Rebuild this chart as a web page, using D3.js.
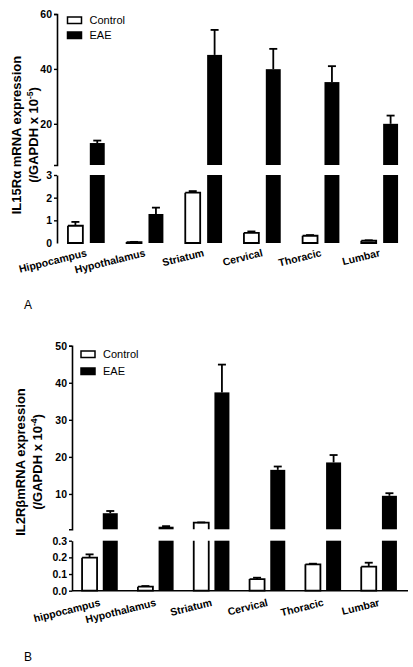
<!DOCTYPE html>
<html>
<head>
<meta charset="utf-8">
<script src="https://cdn.jsdelivr.net/npm/d3@7/dist/d3.min.js"></script>
<style>
  html, body { margin: 0; padding: 0; background: #fff; }
  svg { display: block; }
  text { font-family: "Liberation Sans", Arial, sans-serif; }
</style>
</head>
<body>
<svg id="chart" width="413" height="667"></svg>
<script>
// ---------- DATA ----------
const seriesNames = ["Control", "EAE"];

// Panel A: IL15Rα
const categoriesA = ["Hippocampus", "Hypothalamus", "Striatum", "Cervical", "Thoracic", "Lumbar"];
const controlA    = [0.76, 0.04, 2.22, 0.45, 0.32, 0.10];
const controlErrA = [0.17, 0.01, 0.07, 0.06, 0.03, 0.02];
const eaeA        = [13.0, 1.28, 45.1, 39.9, 35.2, 20.0];
const eaeErrA     = [0.9, 0.28, 9.1, 7.4, 5.8, 3.0];
const upperTicksA = [20, 40, 60];
const lowerTicksA = [0, 1, 2, 3];

// Panel B: IL2Rβ
const categoriesB = ["hippocampus", "Hypothalamus", "Striatum", "Cervical", "Thoracic", "Lumbar"];
const controlB    = [0.198, 0.024, 2.24, 0.070, 0.158, 0.144];
const controlErrB = [0.020, 0.004, 0.08, 0.008, 0.004, 0.024];
const eaeB        = [4.8, 1.16, 37.4, 16.5, 18.5, 9.5];
const eaeErrB     = [0.6, 0.15, 7.5, 0.9, 2.0, 0.7];
const upperTicksB = [10, 20, 30, 40, 50];
const lowerTicksB = [0.0, 0.1, 0.2, 0.3];

// ---------- DRAW ----------
const svg = d3.select("#chart");
svg.append("rect").attr("width", 413).attr("height", 667).attr("fill", "#fff");

function drawPanel(cfg) {
  const g = svg.append("g");
  const x0 = d3.scaleBand().domain(cfg.categories).range([cfg.axisX, cfg.xEnd]).padding(0);
  const x1 = d3.scaleBand().domain(seriesNames).range([0, x0.bandwidth()])
    .paddingInner(cfg.padInner).paddingOuter(cfg.padOuter);
  const yU = d3.scaleLinear().domain(cfg.upperDomain).range(cfg.upperRange);
  const yL = d3.scaleLinear().domain(cfg.lowerDomain).range(cfg.lowerRange);
  const lowMax = cfg.lowerDomain[1], upMin = cfg.upperDomain[0];

  const rows = [];
  cfg.categories.forEach((c, i) => {
    rows.push({cat: c, s: "Control", v: cfg.control[i], e: cfg.controlErr[i]});
    rows.push({cat: c, s: "EAE", v: cfg.eae[i], e: cfg.eaeErr[i]});
  });

  const bw = x1.bandwidth();
  rows.forEach(d => {
    const xl = x0(d.cat) + x1(d.s);
    const filled = d.s === "EAE";
    const parts = [];
    const lowTop = Math.min(d.v, lowMax);
    parts.push({y0: yL(0), y1: yL(lowTop), closedTop: d.v <= lowMax, closedBottom: true});
    if (d.v > upMin) {
      parts.push({y0: yU(upMin), y1: yU(d.v), closedTop: true, closedBottom: false});
    }
    parts.forEach(p => {
      if (filled) {
        g.append("rect").attr("x", xl).attr("y", p.y1).attr("width", bw)
          .attr("height", Math.max(0, p.y0 - p.y1)).attr("fill", "#000");
      } else {
        g.append("rect").attr("x", xl).attr("y", p.y1).attr("width", bw)
          .attr("height", Math.max(0, p.y0 - p.y1)).attr("fill", "#fff");
        const path = d3.path();
        if (p.closedBottom) {
          path.moveTo(xl, p.y1); path.lineTo(xl, p.y0); path.lineTo(xl + bw, p.y0); path.lineTo(xl + bw, p.y1);
          if (p.closedTop) path.lineTo(xl, p.y1);
        } else {
          path.moveTo(xl, p.y0); path.lineTo(xl, p.y1); path.lineTo(xl + bw, p.y1); path.lineTo(xl + bw, p.y0);
        }
        g.append("path").attr("d", path.toString()).attr("fill", "none")
          .attr("stroke", "#000").attr("stroke-width", 1.8);
      }
    });
    const ys = d.v > lowMax ? yU : yL;
    const cx = xl + bw / 2;
    const yTop = ys(d.v), yErr = ys(d.v + d.e);
    g.append("line").attr("x1", cx).attr("x2", cx).attr("y1", yTop).attr("y2", yErr)
      .attr("stroke", "#000").attr("stroke-width", 1.8);
    g.append("line").attr("x1", cx - 4).attr("x2", cx + 4).attr("y1", yErr).attr("y2", yErr)
      .attr("stroke", "#000").attr("stroke-width", 1.8);
  });

  const axU = g.append("g").attr("transform", `translate(${cfg.axisX},0)`)
    .call(d3.axisLeft(yU).tickValues(cfg.upperTicks).tickSize(3).tickSizeOuter(3).tickPadding(2).tickFormat(d3.format("d")));
  const axL = g.append("g").attr("transform", `translate(${cfg.axisX},0)`)
    .call(d3.axisLeft(yL).tickValues(cfg.lowerTicks).tickSize(3).tickSizeOuter(0).tickPadding(2).tickFormat(d3.format(cfg.lowerFormat)));
  [axU, axL].forEach(ax => {
    ax.select(".domain").attr("stroke-width", 1.6);
    ax.selectAll(".tick line").attr("stroke-width", 1.4);
    ax.selectAll("text").attr("font-size", 10.5).attr("font-weight", "bold")
      .attr("font-family", "'Liberation Sans', Arial, sans-serif").attr("fill", "#000");
  });
  if (cfg.hideZeroTick) {
    axL.selectAll(".tick").filter(d => d === 0).select("line").remove();
  }
  if (cfg.xAxisLine) {
    g.append("line").attr("x1", cfg.axisX).attr("x2", cfg.xEnd + 1)
      .attr("y1", yL(0)).attr("y2", yL(0)).attr("stroke", "#000").attr("stroke-width", 1.6);
  }

  g.selectAll("text.xlab").data(cfg.categories).enter().append("text")
    .attr("class", "xlab")
    .attr("transform", c => `translate(${x0(c) + x0.bandwidth() / 2 + 1},${yL(0) + cfg.labelDy}) rotate(-14)`)
    .attr("text-anchor", "end").attr("font-size", 10.5).attr("font-weight", "bold")
    .text(c => c);

  const t = g.append("text").attr("transform", `translate(${cfg.titleX1},${cfg.titleY}) rotate(-90)`)
    .attr("text-anchor", "middle").attr("font-size", 13).attr("font-weight", "bold");
  t.text(cfg.title1);
  const t2 = g.append("text").attr("transform", `translate(${cfg.titleX2},${cfg.titleY}) rotate(-90)`)
    .attr("text-anchor", "middle").attr("font-size", 13).attr("font-weight", "bold");
  t2.append("tspan").text("(/GAPDH x 10");
  t2.append("tspan").attr("baseline-shift", "super").attr("font-size", 8.5).text(cfg.exponent);
  t2.append("tspan").text(")");

  const lg = g.append("g");
  seriesNames.forEach((s, i) => {
    const yy = cfg.legendY + i * cfg.legendStep;
    lg.append("rect").attr("x", cfg.legendX).attr("y", yy).attr("width", 14).attr("height", 6.5)
      .attr("fill", s === "EAE" ? "#000" : "#fff").attr("stroke", "#000").attr("stroke-width", 1.5);
    lg.append("text").attr("x", cfg.legendX + 22).attr("y", yy + 7).attr("font-size", cfg.legendFont)
      .attr("fill", "#000").text(s);
  });

  svg.append("text").attr("x", 24).attr("y", cfg.letterY)
    .attr("font-family", "'Liberation Serif', 'Times New Roman', serif").attr("font-size", 12)
    .text(cfg.letter);
}

drawPanel({
  categories: categoriesA, control: controlA, controlErr: controlErrA, eae: eaeA, eaeErr: eaeErrA,
  axisX: 57, xEnd: 409, padInner: 0.318, padOuter: 0.5,
  upperDomain: [5, 60], upperRange: [165, 14], lowerDomain: [0, 3], lowerRange: [243, 175],
  upperTicks: upperTicksA, lowerTicks: lowerTicksA, lowerFormat: "d",
  hideZeroTick: true, xAxisLine: false, labelDy: 13,
  title1: "IL15R\u03B1 mRNA expression", exponent: "-5", titleX1: 21, titleX2: 38, titleY: 135,
  legendX: 67.5, legendY: 17, legendStep: 15, legendFont: 11,
  letter: "A", letterY: 309
});

drawPanel({
  categories: categoriesB, control: controlB, controlErr: controlErrB, eae: eaeB, eaeErr: eaeErrB,
  axisX: 72, xEnd: 407, padInner: 0.275, padOuter: 0.487,
  upperDomain: [0.46, 50], upperRange: [529.3, 345.7], lowerDomain: [0, 0.3], lowerRange: [590.7, 540.7],
  upperTicks: upperTicksB, lowerTicks: lowerTicksB, lowerFormat: ".1f",
  hideZeroTick: false, xAxisLine: true, labelDy: 15,
  title1: "IL2R\u03B2mRNA expression", exponent: "-4", titleX1: 25, titleX2: 42, titleY: 462,
  legendX: 81, legendY: 351, legendStep: 17, legendFont: 11,
  letter: "B", letterY: 661
});
</script>
</body>
</html>
